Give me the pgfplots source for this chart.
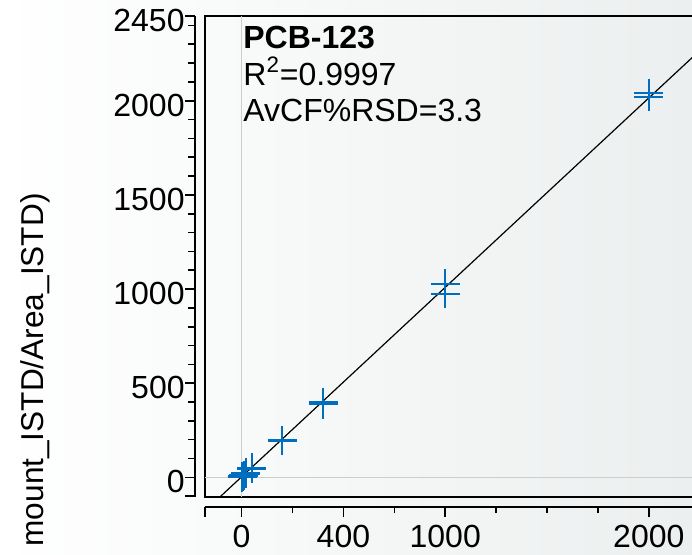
\documentclass[border=0pt]{standalone}
\usepackage{fontspec}
\setmainfont{Liberation Sans}
\usepackage{pgfplots}
\pgfplotsset{compat=1.18}
\definecolor{ptblue}{RGB}{0,110,190}
\definecolor{bgright}{RGB}{236,239,239}
\definecolor{gridgray}{RGB}{205,205,205}
\begin{document}
\begin{tikzpicture}
\path[use as bounding box] (0,0) rectangle (346pt,-277pt);
\clip (0,0) rectangle (346pt,-277pt);
\shade[left color=white, right color=bgright] (0,0) rectangle (346pt,-277pt);

% main plot box
\begin{axis}[
  at={(102.5pt,-248.55pt)}, anchor=south west,
  scale only axis, width=252.45pt, height=240.55pt,
  xmin=-180, xmax=2300, ymin=-105, ymax=2450,
  xtick=\empty, ytick=\empty,
  extra x ticks={0}, extra y ticks={0},
  extra x tick labels={}, extra y tick labels={},
  extra tick style={grid=major, major tick length=0pt},
  grid style={gridgray, line width=0.75pt},
  axis line style={line width=1pt},
  clip=true,
]
\addplot[black, line width=0.6pt] coordinates {(-120,-117.7) (2400,2417.4)};
\addplot[only marks, mark=+, mark size=7.25pt, ptblue, mark options={line width=1pt}] coordinates {
(2,1) (2,3) (5,3) (5,6) (10,9) (10,12) (20,20) (20,24) (50,46) (50,52)
(200,197) (200,195) (400,400) (400,388) (1000,1029) (1000,976) (2000,2040) (2000,2020)
};
\end{axis}

% offset y axis
\begin{axis}[
  at={(97.5pt,-248.55pt)}, anchor=south west,
  scale only axis, width=10pt, height=240.55pt,
  xmin=0, xmax=1, ymin=-105, ymax=2450,
  axis y line=left, axis x line=none,
  axis line style={-, line width=1pt},
  tick align=outside,
  ytick={0,500,1000,1500,2000,2450},
  yticklabels={0,500,1000,1500,2000,2450},
  minor ytick={-100,0,...,2400},
  extra y ticks={-100}, extra y tick labels={},
  major tick length=5pt, minor tick length=3.5pt,
  tick style={line width=0.8pt, black},
  yticklabel style={font=\fontsize{16}{19}\selectfont, inner sep=0pt, yshift=-2.25pt},
]
\addplot[draw=none] coordinates {(0,0)};
\end{axis}

% offset x axis
\begin{axis}[
  at={(102.5pt,-253.5pt)}, anchor=south west,
  scale only axis, width=252.45pt, height=10pt,
  xmin=-180, xmax=2300, ymin=0, ymax=1,
  axis x line=bottom, axis y line=none,
  axis line style={-, line width=1pt},
  tick align=outside,
  xtick={-180,0,500,1000,2000},
  xticklabels={,0,400,1000,2000},
  minor xtick={250,750,1250,1500,1750,2250},
  major tick length=5pt, minor tick length=3pt,
  tick style={line width=0.8pt, black},
  xticklabel style={font=\fontsize{16}{19}\selectfont, inner sep=0pt, yshift=-4pt},
]
\addplot[draw=none] coordinates {(0,0.5)};
\end{axis}

\node[anchor=base west, inner sep=0pt, font=\fontsize{16}{19}\selectfont\bfseries] at (121.5pt,-24.2pt) {PCB-123};
\node[anchor=base west, inner sep=0pt, font=\fontsize{16}{19}\selectfont] at (121.5pt,-42.5pt) {R\textsuperscript{2}=0.9997};
\node[anchor=base west, inner sep=0pt, font=\fontsize{16}{19}\selectfont] at (121.5pt,-60.6pt) {AvCF\%RSD=3.3};

\node[rotate=90, anchor=base east, inner sep=0pt, font=\fontsize{15.8}{19}\selectfont] at (21.5pt,-96.5pt) {mount\_ISTD/Area\_ISTD)};
\end{tikzpicture}
\end{document}
